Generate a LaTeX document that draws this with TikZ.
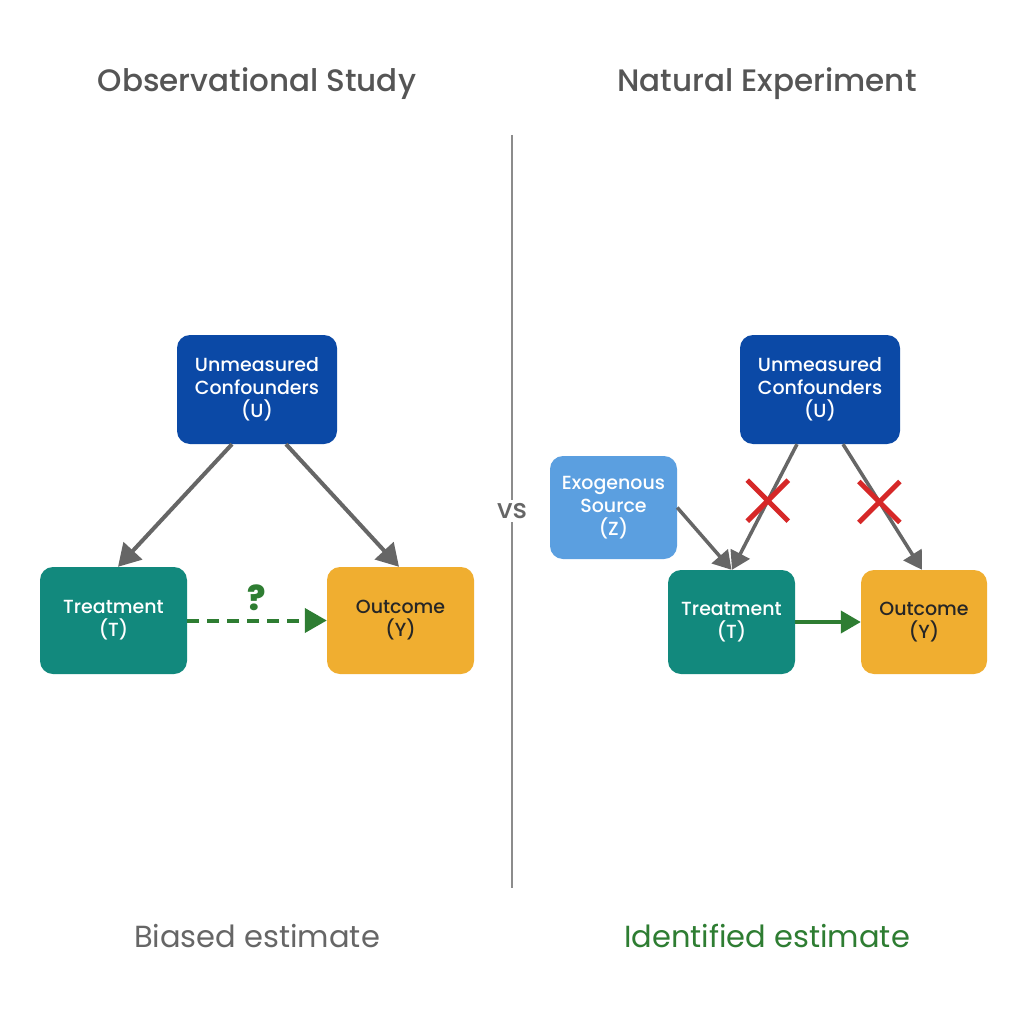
\documentclass[tikz,border=0pt]{standalone}
\usepackage{fontspec}
\setmainfont{Poppins}
\newfontfamily\medfont{Poppins Medium}
\usetikzlibrary{arrows.meta,shapes.misc}
\definecolor{deepblue}{HTML}{0B49A6}
\definecolor{tealbox}{HTML}{12897D}
\definecolor{amberbox}{HTML}{F0AE30}
\definecolor{skyblue}{HTML}{5B9FE0}
\definecolor{arrowgray}{HTML}{666666}
\definecolor{titlegray}{HTML}{555555}
\definecolor{okgreen}{HTML}{2E7D32}
\definecolor{xred}{HTML}{D62828}
\tikzset{
  box/.style={rounded corners=13pt, inner sep=0pt, align=center,
    font=\medfont\fontsize{19}{23}\selectfont},
  ubox/.style={box, fill=deepblue, text=white, minimum width=160pt, minimum height=109pt},
  tbox/.style={box, fill=tealbox, text=white},
  ybox/.style={box, fill=amberbox, text=black!85},
  zbox/.style={box, fill=skyblue, text=white, minimum width=127pt, minimum height=103pt},
  causal/.style={draw=arrowgray, line width=4pt,
    -{Triangle[length=22pt,width=25pt]}},
  causalsm/.style={draw=arrowgray, line width=3.5pt,
    -{Triangle[length=18pt,width=21pt]}},
  paneltitle/.style={font=\medfont\fontsize{31}{33}\selectfont, text=titlegray},
  verdict/.style={font=\fontsize{30.5}{32}\selectfont},
  xmark/.style={cross out, draw=xred, line width=5pt, minimum size=36pt, inner sep=0pt}
}
\begin{document}
\begin{tikzpicture}[x=1pt,y=-1pt]
\useasboundingbox[fill=white] (0,0) rectangle (1024,1024);

% headings and divider
\node[paneltitle] (tl) at (257,84) {Observational Study};
\node[paneltitle] (tr) at (767,84) {Natural Experiment};
\coordinate (dtop) at (512,135);
\coordinate (dbot) at (512,888);
\draw[draw=black!45, line width=1.2pt] (dtop) -- (dbot);
\node[fill=white, inner sep=3pt, font=\medfont\fontsize{27}{29}\selectfont, text=arrowgray] (vs) at (512,511) {vs};

% observational study
\node[ubox] (uL) at (257,389.5) {Unmeasured\\Confounders\\(U)};
\node[tbox, minimum width=147pt, minimum height=107pt] (tL) at (113.5,620.5) {Treatment\\(T)};
\node[ybox, minimum width=147pt, minimum height=107pt] (yL) at (400.5,620.5) {Outcome\\(Y)};
\draw[causal] ([xshift=-25pt]uL.south) -- ([xshift=4.5pt]tL.north);
\draw[causal] ([xshift=29pt]uL.south) -- ([xshift=-1.5pt]yL.north);
\draw[draw=okgreen, line width=4pt, dash pattern=on 12pt off 8pt,
  -{Triangle[length=22pt,width=24pt]}] (tL.east) -- (yL.west)
  node[midway, above=4pt, font=\medfont\bfseries\fontsize{34}{36}\selectfont, text=okgreen] (q) {?};

% natural experiment
\node[ubox] (uR) at (820,389.5) {Unmeasured\\Confounders\\(U)};
\node[zbox] (zR) at (613.5,507.5) {Exogenous\\Source\\(Z)};
\node[tbox, minimum width=127pt, minimum height=104pt] (tR) at (731.5,622) {Treatment\\(T)};
\node[ybox, minimum width=126pt, minimum height=104pt] (yR) at (924,622) {Outcome\\(Y)};
\draw[causalsm] (zR.east) -- (tR.north);
\draw[causalsm] ([xshift=-23pt]uR.south) -- node[pos=0.45, xmark] (cut1) {} ([xshift=0.5pt]tR.north);
\draw[causalsm] ([xshift=23pt]uR.south) -- node[pos=0.46, xmark] (cut2) {} ([xshift=-2pt]yR.north);
\draw[draw=okgreen, line width=4pt, -{Triangle[length=20pt,width=22pt]}] (tR.east) -- (yR.west);

% conclusions
\node[verdict, text=arrowgray] (bl) at (257,936) {Biased estimate};
\node[verdict, text=okgreen] (br) at (767,936) {Identified estimate};
\end{tikzpicture}
\end{document}
